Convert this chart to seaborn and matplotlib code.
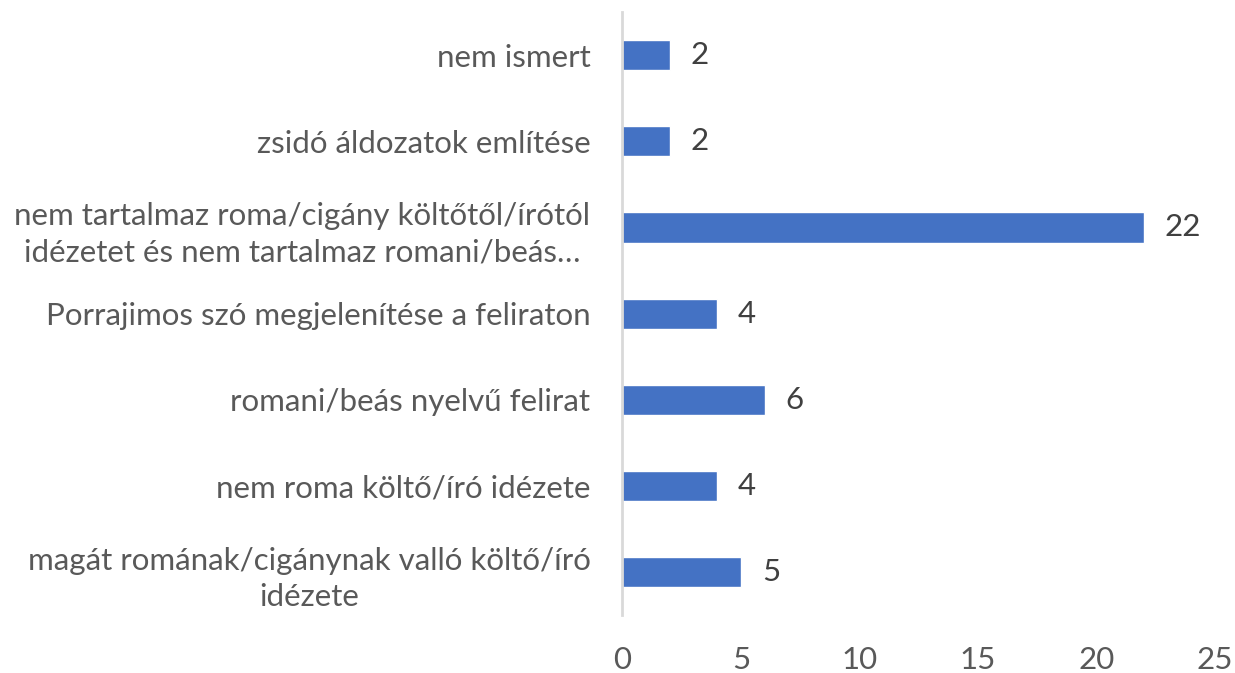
import matplotlib
matplotlib.use("Agg")
import matplotlib.pyplot as plt
import seaborn as sns
import pandas as pd

categories = [
    "nem ismert",
    "zsidó áldozatok említése",
    "nem tartalmaz roma/cigány költőtől/írótól\nidézetet és nem tartalmaz romani/beás…",
    "Porrajimos szó megjelenítése a feliraton",
    "romani/beás nyelvű felirat",
    "nem roma költő/író idézete",
    "magát romának/cigánynak valló költő/író\nidézete",
]
values = [2, 2, 22, 4, 6, 4, 5]
x_ticks = [0, 5, 10, 15, 20, 25]

sns.set_theme(style="white")
plt.rcParams["font.family"] = ["Lato", "DejaVu Sans"]

df = pd.DataFrame({"cat": categories, "val": values})

fig = plt.figure(figsize=(12.35, 6.73), dpi=100)
ax = fig.add_axes([0.504, 0.086, 0.480, 0.896])
sns.barplot(data=df, y="cat", x="val", orient="h", color="#4472C4",
            saturation=1, width=0.35, ax=ax)

ax.set_xlim(0, 25)
ax.set_ylim(6.5, -0.5)
ax.set_xticks(x_ticks)
ax.set_xlabel("")
ax.set_ylabel("")
for s in ["top", "right", "bottom"]:
    ax.spines[s].set_visible(False)
ax.spines["left"].set_color("#D9D9D9")
ax.spines["left"].set_linewidth(2)
ax.tick_params(axis="both", length=0, colors="#595959", labelsize=22.5)
ax.tick_params(axis="y", pad=23)
ax.tick_params(axis="x", pad=22)
for lab in ax.get_yticklabels():
    lab.set_multialignment("center")
    lab.set_color("#595959")
    lab.set_linespacing(1.35)

for i, v in enumerate(values):
    ax.annotate(str(v), xy=(v, i), xytext=(15, 0), textcoords="offset points",
                va="center", ha="left", fontsize=22.5, color="#404040")

fig.savefig("out.png", dpi=100)
